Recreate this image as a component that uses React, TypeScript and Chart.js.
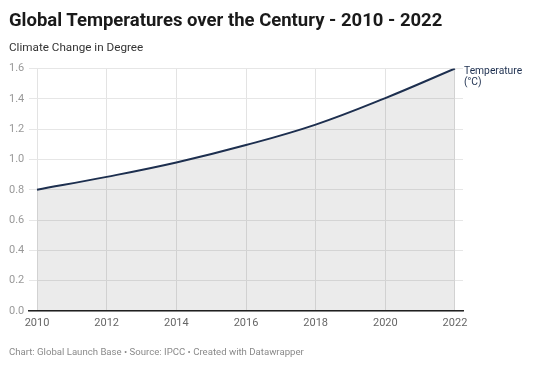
import React, { useEffect, useRef } from "react";
import { Chart, registerables } from "chart.js";

Chart.register(...registerables);

const years = [2010, 2012, 2014, 2016, 2018, 2020, 2022];
const temperatures = [0.8, 0.885, 0.98, 1.095, 1.23, 1.405, 1.6];
const xTicks = [2010, 2012, 2014, 2016, 2018, 2020, 2022];
const yTicks = [0, 0.2, 0.4, 0.6, 0.8, 1.0, 1.2, 1.4, 1.6];
const seriesLabel = ["Temperature", "(°C)"];

const FONT = "Roboto, 'Noto Sans', sans-serif";
const LINE = "#1d2f4f";

const endLabelPlugin = {
  id: "endLabel",
  afterDatasetsDraw(chart: any) {
    const meta = chart.getDatasetMeta(0);
    const pts = meta.data;
    if (!pts || !pts.length) return;
    const p = pts[pts.length - 1];
    const ctx = chart.ctx;
    ctx.save();
    ctx.font = `10.3px ${FONT}`;
    ctx.fillStyle = LINE;
    ctx.textAlign = "left";
    ctx.textBaseline = "middle";
    ctx.fillText(seriesLabel[0], p.x + 9, p.y + 2.5);
    ctx.fillText(seriesLabel[1], p.x + 9, p.y + 14);
    ctx.restore();
  },
};

export default function App() {
  const ref = useRef<HTMLCanvasElement | null>(null);

  useEffect(() => {
    if (!ref.current) return;
    const chart = new Chart(ref.current, {
      type: "line",
      data: {
        datasets: [
          {
            label: "Temperature (°C)",
            data: years.map((y, i) => ({ x: y, y: temperatures[i] })),
            borderColor: LINE,
            borderWidth: 2,
            backgroundColor: "rgba(0,0,0,0.08)",
            fill: "origin",
            pointRadius: 0,
            tension: 0.4,
          },
        ],
      },
      options: {
        animation: false,
        responsive: false,
        maintainAspectRatio: false,
        layout: { padding: { left: 9, right: 77, top: 68.5, bottom: 0 } },
        plugins: {
          legend: { display: false },
          tooltip: { enabled: false },
        },
        scales: {
          x: {
            type: "linear",
            min: 2009.77,
            max: 2022.23,
            afterBuildTicks: (s: any) => {
              s.ticks = xTicks.map((v) => ({ value: v }));
            },
            afterFit: (s: any) => {
              s.height = 55;
            },
            grid: { color: "#e3e3e3", lineWidth: 1, drawTicks: false },
            border: { display: true, color: "#222", width: 1.5 },
            ticks: {
              color: "#666",
              font: { family: FONT, size: 11 },
              padding: 6,
              maxRotation: 0,
              autoSkip: false,
              callback: (v: any) => String(v),
            },
          },
          y: {
            min: 0,
            max: 1.6,
            afterBuildTicks: (s: any) => {
              s.ticks = yTicks.map((v) => ({ value: v }));
            },
            afterFit: (s: any) => {
              s.width = 20;
            },
            grid: { color: "#e6e6e6", lineWidth: 1, drawTicks: false },
            border: { display: false },
            ticks: {
              color: "#999",
              crossAlign: "far",
              font: { family: FONT, size: 11 },
              callback: (v: any) => Number(v).toFixed(1),
            },
          },
        },
      },
      plugins: [endLabelPlugin],
    } as any);
    return () => chart.destroy();
  }, []);

  return (
    <div
      style={{
        position: "absolute",
        left: 0,
        top: 0,
        width: 540,
        height: 366,
        background: "#fff",
        fontFamily: FONT,
      }}
    >
      <canvas
        ref={ref}
        width={540}
        height={366}
        style={{ position: "absolute", left: 0, top: 0, width: 540, height: 366 }}
      />
      <div
        style={{
          position: "absolute",
          left: 9,
          top: 8.4,
          fontSize: 18.5,
          fontWeight: 700,
          color: "#1a1a1a",
          lineHeight: "24px",
          whiteSpace: "nowrap",
        }}
      >
        Global Temperatures over the Century - 2010 - 2022
      </div>
      <div
        style={{
          position: "absolute",
          left: 9,
          top: 38.7,
          fontSize: 11.7,
          color: "#333",
          lineHeight: "16px",
          whiteSpace: "nowrap",
        }}
      >
        Climate Change in Degree
      </div>
      <div
        style={{
          position: "absolute",
          left: 9,
          top: 345.3,
          fontSize: 9.6,
          color: "#8a8a8a",
          lineHeight: "14px",
          whiteSpace: "nowrap",
        }}
      >
        Chart: Global Launch Base • Source: IPCC • Created with Datawrapper
      </div>
    </div>
  );
}
